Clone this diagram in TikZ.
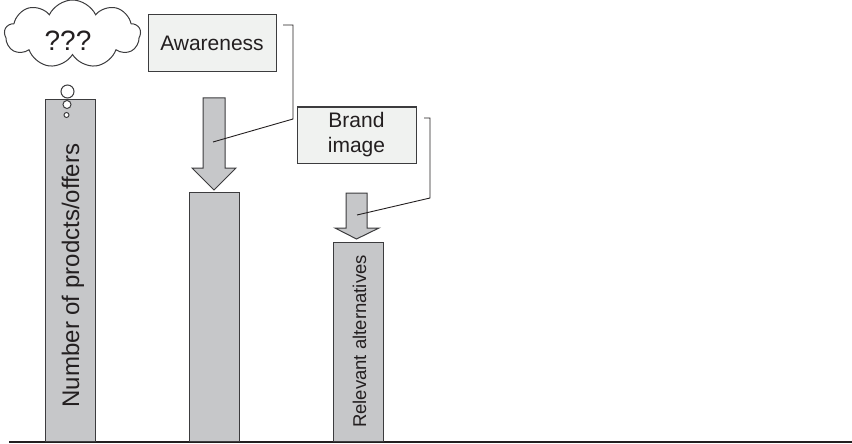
\documentclass[tikz,border=0pt]{standalone}
\usepackage{fontspec}
\setmainfont{Liberation Sans}
\usetikzlibrary{shapes.geometric,shapes.symbols}
\definecolor{barfill}{RGB}{198,199,201}
\definecolor{boxfill}{RGB}{240,242,240}
\definecolor{ink}{RGB}{35,31,32}
\definecolor{edge}{RGB}{60,60,62}
\begin{document}
\begin{tikzpicture}[x=1pt,y=-1pt,
  bar/.style={draw=edge,line width=1.3pt,fill=barfill,inner sep=0pt,anchor=south west},
  labelbox/.style={draw=edge,line width=1pt,fill=boxfill,inner sep=0pt,text=ink,align=center},
  downarrow/.style={draw=edge,line width=1pt,fill=barfill,line join=miter},
  leader/.style={draw=ink,line width=0.9pt},
  bubble/.style={draw=edge,line width=1pt,fill=white}]
\useasboundingbox (0,0) rectangle (852,444);

% ground line
\coordinate (g0) at (9,442);
\coordinate (g1) at (852,442);
\draw[draw=ink,line width=2pt] (g0) -- (g1);

% bars
\node[bar,minimum width=50pt,minimum height=342pt] (bar1) at (45,442) {};
\node[bar,minimum width=50pt,minimum height=249pt] (bar2) at (189,442) {};
\node[bar,minimum width=50pt,minimum height=199pt] (bar3) at (333,442) {};

% bar captions
\node[rotate=90,anchor=base,text=ink,inner sep=0pt,font=\fontsize{24}{28}\selectfont] (cap1) at (79,275.5) {Number of prodcts/offers};
\node[rotate=90,anchor=base,text=ink,inner sep=0pt,font=\fontsize{18.5}{22}\selectfont] (cap3) at (366,341.5) {Relevant alternatives};

% block arrows
\path[downarrow] (203,98) -- (225,98) -- (225,168) -- (236,168) -- (214,190) -- (192,168) -- (203,168) -- cycle;
\path[downarrow] (346,193) -- (367,193) -- (367,228) -- (379,228) -- (356.5,239) -- (335,228) -- (346,228) -- cycle;

% thought cloud
\node[cloud,cloud puffs=9,cloud puff arc=130,cloud ignores aspect,draw=edge,line width=1pt,fill=white,
      minimum width=136pt,minimum height=68pt,inner sep=0pt] (cloud) at (72.5,34) {};
\node[text=ink,inner sep=0pt,font=\fontsize{28}{32}\selectfont] (qq) at (68,41) {???};
\node[bubble,circle,minimum size=13pt,inner sep=0pt] (b1) at (67.5,91.5) {};
\node[bubble,circle,minimum size=8pt,inner sep=0pt] (b2) at (67,104.5) {};
\node[bubble,circle,minimum size=5pt,inner sep=0pt] (b3) at (66.5,115) {};

% label boxes
\node[labelbox,minimum width=128pt,minimum height=57pt,font=\fontsize{21}{25}\selectfont] (aware) at (212,43.5) {Awareness};
\node[labelbox,minimum width=119pt,minimum height=56pt,font=\fontsize{21}{25}\selectfont] (brand) at (356.5,135) {Brand\\image};

% leader lines
\coordinate (a0) at (283,25);
\coordinate (a1) at (293,25);
\coordinate (a2) at (293,119);
\coordinate (a3) at (213,142);
\draw[leader] (a0) -- (a1) -- (a2) -- (a3);
\coordinate (c0) at (424,118);
\coordinate (c1) at (430,118);
\coordinate (c2) at (430,198);
\coordinate (c3) at (357,215);
\draw[leader] (c0) -- (c1) -- (c2) -- (c3);
\end{tikzpicture}
\end{document}
